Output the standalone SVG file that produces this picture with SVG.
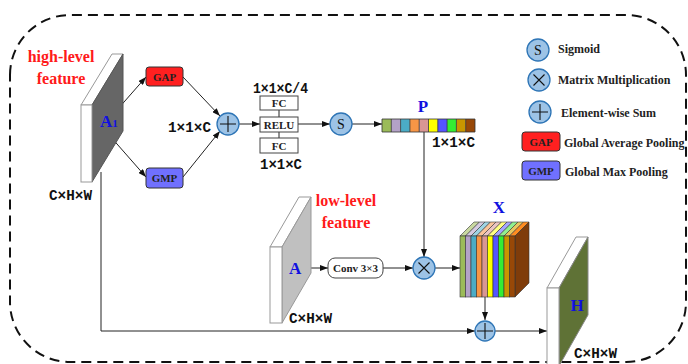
<svg xmlns="http://www.w3.org/2000/svg" width="688" height="364" viewBox="0 0 688 364">
<defs>
<marker id="arr" markerUnits="userSpaceOnUse" markerWidth="8" markerHeight="6" refX="8" refY="3" orient="auto"><path d="M0,0 L8,3 L0,6 z" fill="#111"/></marker>
<style>
.ln{fill:none;stroke:#222;stroke-width:1}
.op{fill:#9DC3E6;stroke:#2E75B6;stroke-width:1.3}
.sym{fill:none;stroke:#111;stroke-width:1.1}
.face{fill:#fff;stroke:#999;stroke-width:1}
.red{font-family:"Liberation Serif",serif;font-weight:bold;font-size:16px;fill:#FF1A1A}
.blue{font-family:"Liberation Serif",serif;font-weight:bold;font-size:17px;fill:#1010E0}
.dim{font-family:"Liberation Mono",monospace;font-weight:bold;font-size:14px;fill:#111}
.box{fill:#fff;stroke:#444;stroke-width:1}
.bt{font-family:"Liberation Serif",serif;font-weight:bold;font-size:11px;fill:#222;text-anchor:middle}
.lg{font-family:"Liberation Serif",serif;font-weight:bold;font-size:12px;fill:#222}
.st{font-family:"Liberation Serif",serif;font-size:14px;fill:#111;text-anchor:middle}
</style>
</defs>
<rect width="688" height="364" fill="#fff"/>
<path d="M10,75 A60,60 0 0 1 70,15 L626,15 A60,60 0 0 1 686,75 L686,302 A60,60 0 0 1 626,362 L70,362 A60,60 0 0 1 10,302 Z" fill="none" stroke="#111" stroke-width="2" stroke-dasharray="10 6"/>

<g id="connectors">
<line class="ln" x1="117" y1="110" x2="146" y2="77" marker-end="url(#arr)"/>
<line class="ln" x1="110" y1="136" x2="146" y2="177" marker-end="url(#arr)"/>
<line class="ln" x1="183" y1="77" x2="220" y2="116" marker-end="url(#arr)"/>
<line class="ln" x1="183" y1="177" x2="220" y2="131" marker-end="url(#arr)"/>
<line class="ln" x1="239" y1="124" x2="260" y2="124" marker-end="url(#arr)"/>
<line class="ln" x1="298" y1="124" x2="330" y2="124" marker-end="url(#arr)"/>
<line class="ln" x1="352" y1="124" x2="382" y2="124" marker-end="url(#arr)"/>
<line class="ln" x1="424" y1="132" x2="424" y2="257" marker-end="url(#arr)"/>
<line class="ln" x1="300" y1="268" x2="328" y2="268" marker-end="url(#arr)"/>
<line class="ln" x1="383" y1="268" x2="413" y2="268" marker-end="url(#arr)"/>
<line class="ln" x1="435" y1="268" x2="460" y2="268" marker-end="url(#arr)"/>
<line class="ln" x1="485" y1="297" x2="485" y2="320" marker-end="url(#arr)"/>
<polyline class="ln" points="101,172 101,331 475,331" marker-end="url(#arr)"/>
<line class="ln" x1="495" y1="331" x2="547" y2="331" marker-end="url(#arr)"/>
</g>

<g id="A1">
<polygon class="face" points="81,105 92,105 123,54 112,54"/>
<polygon points="92,105 123,54 123,131 92,182" fill="#666" stroke="#555"/>
<rect class="face" x="81" y="105" width="11" height="77"/>
<text class="blue" x="100" y="127">A<tspan font-size="11">1</tspan></text>
<text class="red" x="61" y="62" text-anchor="middle">high-level</text>
<text class="red" x="61" y="84" text-anchor="middle">feature</text>
<text class="dim" x="49" y="200" textLength="43" lengthAdjust="spacingAndGlyphs">C×H×W</text>
</g>

<g id="GAP">
<rect x="146" y="67" width="37" height="19" rx="3" fill="#FF2020" stroke="#333"/>
<text class="bt" x="164.5" y="80.5">GAP</text>
</g>
<g id="GMP">
<rect x="146" y="168" width="37" height="20" rx="3" fill="#7070FF" stroke="#333"/>
<text class="bt" x="164.5" y="182">GMP</text>
</g>

<g id="sum1">
<circle class="op" cx="228" cy="124" r="11"/>
<path class="sym" d="M220,124 H236 M228,116 V132"/>
<text class="dim" x="168" y="132" textLength="43" lengthAdjust="spacingAndGlyphs">1×1×C</text>
</g>

<g id="mlp">
<line class="ln" x1="279" y1="110" x2="279" y2="117"/>
<line class="ln" x1="279" y1="132" x2="279" y2="138"/>
<rect class="box" x="260" y="96" width="38" height="14"/>
<text class="bt" x="279" y="107">FC</text>
<rect class="box" x="260" y="117" width="38" height="15"/>
<text class="bt" x="279" y="128.5">RELU</text>
<rect class="box" x="260" y="138" width="38" height="15"/>
<text class="bt" x="279" y="149.5">FC</text>
<text class="dim" x="253" y="93" textLength="55" lengthAdjust="spacingAndGlyphs">1×1×C/4</text>
<text class="dim" x="260" y="169" textLength="42" lengthAdjust="spacingAndGlyphs">1×1×C</text>
</g>

<g id="sigmoid">
<circle class="op" cx="341" cy="124" r="11"/>
<text class="st" x="341" y="129">S</text>
</g>

<g id="P">
<rect x="382" y="119" width="9.3" height="13" fill="#9BBB59"/>
<rect x="391.3" y="119" width="9.3" height="13" fill="#B3A2C7"/>
<rect x="400.6" y="119" width="9.3" height="13" fill="#4BACC6"/>
<rect x="409.9" y="119" width="9.3" height="13" fill="#F79646"/>
<rect x="419.2" y="119" width="9.3" height="13" fill="#D99694"/>
<rect x="428.5" y="119" width="9.3" height="13" fill="#FFFF00"/>
<rect x="437.8" y="119" width="9.3" height="13" fill="#5555FF"/>
<rect x="447.1" y="119" width="9.3" height="13" fill="#33EE33"/>
<rect x="456.4" y="119" width="9.3" height="13" fill="#C89600"/>
<rect x="465.7" y="119" width="9.3" height="13" fill="#984807"/>
<path d="M382,119 H475 V132 H382 Z M391.3,119 V132 M400.6,119 V132 M409.9,119 V132 M419.2,119 V132 M428.5,119 V132 M437.8,119 V132 M447.1,119 V132 M456.4,119 V132 M465.7,119 V132" fill="none" stroke="#333" stroke-width="0.8"/>
<text class="blue" x="423" y="112" text-anchor="middle">P</text>
<text class="dim" x="432" y="147" textLength="43" lengthAdjust="spacingAndGlyphs">1×1×C</text>
</g>

<g id="A">
<polygon class="face" points="270,247 282,247 311,197 299,197"/>
<polygon points="282,247 311,197 311,273 282,323" fill="#C0C0C0" stroke="#999"/>
<rect class="face" x="270" y="247" width="12" height="76"/>
<text class="blue" x="289" y="274">A</text>
<text class="red" x="346" y="206" text-anchor="middle">low-level</text>
<text class="red" x="346" y="228" text-anchor="middle">feature</text>
<text class="dim" x="289" y="323" textLength="43" lengthAdjust="spacingAndGlyphs">C×H×W</text>
</g>

<g id="conv">
<rect class="box" x="328" y="258" width="55" height="20" rx="7"/>
<text class="bt" x="355.5" y="272">Conv 3×3</text>
</g>

<g id="mul">
<circle class="op" cx="424" cy="268" r="11"/>
<path class="sym" d="M418.5,262.5 L429.5,273.5 M429.5,262.5 L418.5,273.5"/>
</g>

<g id="X">
<g stroke="#333" stroke-width="0.6">
<polygon points="460,236 474,222 479.5,222 465.5,236" fill="#C8D8A0"/>
<polygon points="465.5,236 479.5,222 485,222 471,236" fill="#D4CAE0"/>
<polygon points="471,236 485,222 490.5,222 476.5,236" fill="#9ED3E2"/>
<polygon points="476.5,236 490.5,222 496,222 482,236" fill="#FAC49A"/>
<polygon points="482,236 496,222 501.5,222 487.5,236" fill="#EBC4C2"/>
<polygon points="487.5,236 501.5,222 507,222 493,236" fill="#FFFF80"/>
<polygon points="493,236 507,222 512.5,222 498.5,236" fill="#A5A5FF"/>
<polygon points="498.5,236 512.5,222 518,222 504,236" fill="#90F090"/>
<polygon points="504,236 518,222 523.5,222 509.5,236" fill="#E6C860"/>
<polygon points="509.5,236 523.5,222 529,222 515,236" fill="#FF8C20"/>
<polygon points="515,236 529,222 529,283 515,297" fill="#7F3C0A"/>
<rect x="460" y="236" width="5.5" height="61" fill="#9BBB59"/>
<rect x="465.5" y="236" width="5.5" height="61" fill="#B3A2C7"/>
<rect x="471" y="236" width="5.5" height="61" fill="#4BACC6"/>
<rect x="476.5" y="236" width="5.5" height="61" fill="#F79646"/>
<rect x="482" y="236" width="5.5" height="61" fill="#D99694"/>
<rect x="487.5" y="236" width="5.5" height="61" fill="#FFFF00"/>
<rect x="493" y="236" width="5.5" height="61" fill="#5555FF"/>
<rect x="498.5" y="236" width="5.5" height="61" fill="#33EE33"/>
<rect x="504" y="236" width="5.5" height="61" fill="#C89600"/>
<rect x="509.5" y="236" width="5.5" height="61" fill="#984807"/>
</g>
<text class="blue" x="499" y="213" text-anchor="middle">X</text>
</g>

<g id="sum2">
<circle class="op" cx="485" cy="331" r="10"/>
<path class="sym" d="M477,331 H493 M485,323 V339"/>
</g>

<g id="H">
<polygon class="face" points="547,288 559,288 588,237 576,237"/>
<polygon points="559,288 588,237 588,315 559,366" fill="#5F7236" stroke="#888"/>
<rect class="face" x="547" y="288" width="12" height="80"/>
<text class="blue" x="577" y="311" text-anchor="middle">H</text>
<text class="dim" x="574" y="358" textLength="43" lengthAdjust="spacingAndGlyphs">C×H×W</text>
</g>

<g id="legend">
<circle class="op" cx="538" cy="50" r="11"/>
<text class="st" x="538" y="55">S</text>
<text class="lg" x="558" y="53">Sigmoid</text>
<circle class="op" cx="539" cy="80" r="11"/>
<path class="sym" d="M533.5,74.5 L544.5,85.5 M544.5,74.5 L533.5,85.5"/>
<text class="lg" x="558" y="84">Matrix Multiplication</text>
<circle class="op" cx="540" cy="112" r="11"/>
<path class="sym" d="M532,112 H548 M540,104 V120"/>
<text class="lg" x="561" y="117">Element-wise Sum</text>
<rect x="522" y="132" width="38" height="19" rx="3" fill="#FF2020" stroke="#333"/>
<text class="bt" x="541" y="145.5">GAP</text>
<text class="lg" x="564" y="147">Global Average Pooling</text>
<rect x="522" y="161" width="38" height="19" rx="3" fill="#7070FF" stroke="#333"/>
<text class="bt" x="541" y="174.5">GMP</text>
<text class="lg" x="565" y="176">Global Max Pooling</text>
</g>
</svg>
